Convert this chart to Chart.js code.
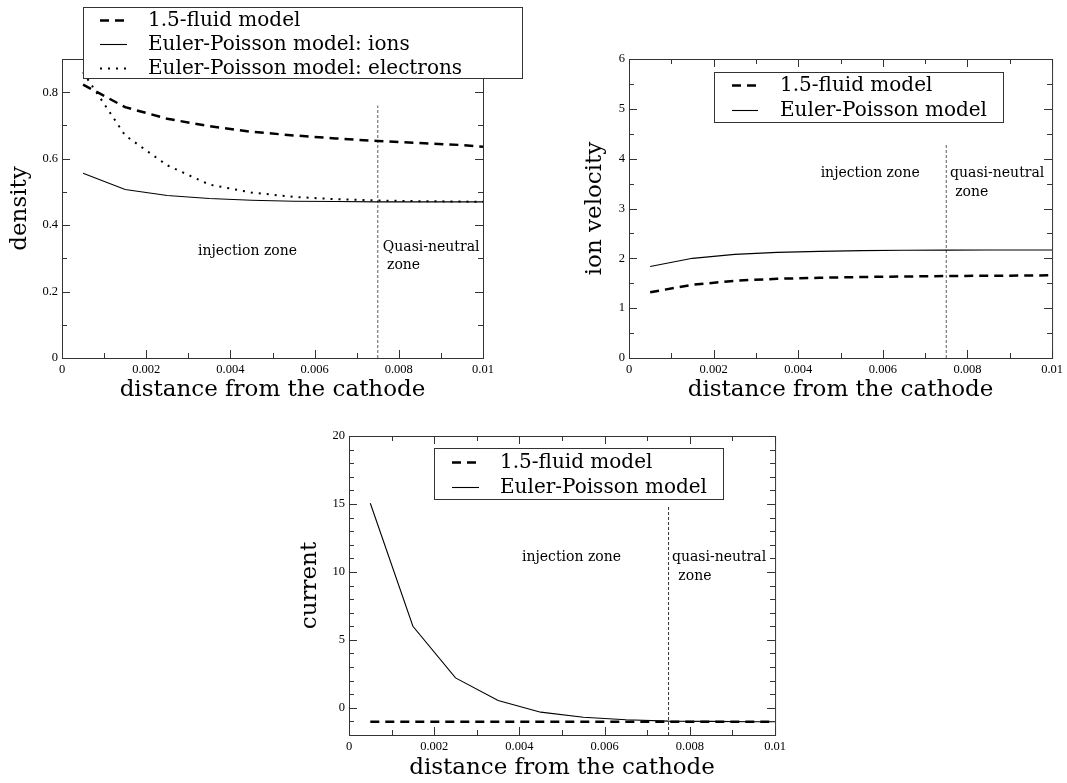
<!DOCTYPE html>
<html>
<head>
<meta charset="utf-8">
<script src="https://cdn.jsdelivr.net/npm/chart.js@4.4.1/dist/chart.umd.min.js"></script>
<style>
  body { margin: 0; background: #fff; }
  .wrap { position: relative; width: 1067px; height: 783px; overflow: hidden; }
  canvas { position: absolute; }
</style>
</head>
<body>
<div class="wrap">
  <canvas id="densityChart" width="545" height="405" style="left:0;top:0;width:545px;height:405px"></canvas>
  <canvas id="velocityChart" width="492" height="405" style="left:575px;top:0;width:492px;height:405px"></canvas>
  <canvas id="currentChart" width="500" height="363" style="left:290px;top:420px;width:500px;height:363px"></canvas>
</div>
<script>
// sample positions along the gap (distance from the cathode)
const distance = [0.0005, 0.0015, 0.0025, 0.0035, 0.0045, 0.0055, 0.0065, 0.0075, 0.0085, 0.0095, 0.01];

// density
const densityFluid = [0.823, 0.755, 0.72, 0.698, 0.681, 0.670, 0.661, 0.653, 0.647, 0.641, 0.636];
const densityIons = [0.556, 0.507, 0.489, 0.480, 0.475, 0.472, 0.471, 0.470, 0.470, 0.470, 0.470];
const densityElectrons = [0.86, 0.67, 0.58, 0.522, 0.498, 0.485, 0.478, 0.474, 0.472, 0.471, 0.470];

// ion velocity
const velocityFluid = [1.32, 1.47, 1.55, 1.59, 1.61, 1.625, 1.635, 1.645, 1.65, 1.655, 1.66];
const velocityEP = [1.835, 2.0, 2.08, 2.12, 2.14, 2.155, 2.162, 2.165, 2.167, 2.168, 2.168];

// current
const currentFluid = [-1.03, -1.03, -1.03, -1.03, -1.03, -1.03, -1.03, -1.03, -1.03, -1.03, -1.03];
const currentEP = [15.05, 6.0, 2.2, 0.54, -0.32, -0.69, -0.88, -0.98, -1.0, -1.02, -1.03];

// boundary between injection zone and quasi-neutral zone
const zoneBoundary = 0.0075;

// ticks
const xTicks = [0, 0.002, 0.004, 0.006, 0.008, 0.01];
const xTickLabels = ['0', '0.002', '0.004', '0.006', '0.008', '0.01'];
const xMinor = [0.001, 0.003, 0.005, 0.007, 0.009];

const densityTicks = [0, 0.2, 0.4, 0.6, 0.8];
const densityTickLabels = ['0', '0.2', '0.4', '0.6', '0.8'];
const densityMinor = [0.1, 0.3, 0.5, 0.7];

const velocityTicks = [0, 1, 2, 3, 4, 5, 6];
const velocityTickLabels = ['0', '1', '2', '3', '4', '5', '6'];
const velocityMinor = [0.5, 1.5, 2.5, 3.5, 4.5, 5.5];

const currentTicks = [0, 5, 10, 15, 20];
const currentTickLabels = ['0', '5', '10', '15', '20'];
const currentMinor = [-1, 1, 2, 3, 4, 6, 7, 8, 9, 11, 12, 13, 14, 16, 17, 18, 19];

const pts = (ys) => distance.map((x, i) => ({ x: x, y: ys[i] }));

const SERIF = '"DejaVu Serif", serif';
const TICKFONT = '"Liberation Serif", "Times New Roman", serif';

// frame + inward ticks on all four sides, zone notes, boxed legend
const paperPlugin = {
    id: 'paper',
    afterDatasetsDraw(chart, args, opts) {
        const ctx = chart.ctx;
        const a = chart.chartArea;
        const xs = chart.scales.x, ys = chart.scales.y;
        ctx.save();
        ctx.strokeStyle = '#333';
        ctx.lineWidth = 1;
        ctx.strokeRect(a.left + 0.5, a.top + 0.5, a.right - a.left, a.bottom - a.top);
        ctx.beginPath();
        const tickX = (vals, len) => vals.forEach(v => {
            const p = Math.round(xs.getPixelForValue(v)) + 0.5;
            ctx.moveTo(p, a.bottom); ctx.lineTo(p, a.bottom - len);
            ctx.moveTo(p, a.top); ctx.lineTo(p, a.top + len);
        });
        const tickY = (vals, len) => vals.forEach(v => {
            const p = Math.round(ys.getPixelForValue(v)) + 0.5;
            ctx.moveTo(a.left, p); ctx.lineTo(a.left + len, p);
            ctx.moveTo(a.right, p); ctx.lineTo(a.right - len, p);
        });
        tickX(xTicks, 8);
        tickX(xMinor, 5);
        tickY(opts.yTicks, 8);
        tickY(opts.yMinor, 5);
        ctx.stroke();

        // zone notes
        ctx.fillStyle = '#000';
        ctx.font = '14px ' + SERIF;
        ctx.textAlign = 'left';
        ctx.textBaseline = 'middle';
        opts.notes.forEach(n => {
            ctx.fillText(n.text, xs.getPixelForValue(n.x), ys.getPixelForValue(n.y));
        });

        // legend box
        const L = opts.legend;
        ctx.fillStyle = '#fff';
        ctx.fillRect(L.left, L.top, L.width, L.height);
        ctx.strokeStyle = '#333';
        ctx.strokeRect(L.left + 0.5, L.top + 0.5, L.width, L.height);
        ctx.font = '20px ' + SERIF;
        chart.data.datasets.filter(d => d.label).forEach((d, i) => {
            const y = Math.round(L.top + L.firstRow + i * L.rowGap) + 0.5;
            ctx.beginPath();
            ctx.strokeStyle = '#000';
            ctx.lineWidth = d.borderWidth;
            ctx.setLineDash(d.borderDash || []);
            ctx.moveTo(L.sampleX, y);
            ctx.lineTo(L.sampleX + L.sampleW, y);
            ctx.stroke();
            ctx.setLineDash([]);
            ctx.fillStyle = '#000';
            ctx.fillText(d.label, L.textX, y);
        });
        ctx.restore();
    }
};

function makeChart(id, cfg) {
    return new Chart(document.getElementById(id).getContext('2d'), {
        type: 'line',
        data: { datasets: cfg.datasets },
        plugins: [paperPlugin],
        options: {
            responsive: false,
            animation: false,
            devicePixelRatio: 1,
            layout: { padding: cfg.padding },
            elements: { point: { radius: 0 }, line: { tension: 0 } },
            plugins: {
                legend: { display: false },
                tooltip: { enabled: false },
                paper: cfg.paper,
            },
            scales: {
                x: {
                    type: 'linear',
                    min: 0,
                    max: 0.01,
                    afterBuildTicks: s => { s.ticks = xTicks.map(v => ({ value: v })); },
                    afterFit: s => { s.height = cfg.xHeight; },
                    grid: { display: false, drawTicks: false },
                    border: { display: false },
                    ticks: {
                        padding: 4,
                        color: '#000',
                        font: { family: TICKFONT, size: 12.5 },
                        maxRotation: 0,
                        callback: (v, i) => xTickLabels[i],
                    },
                    title: {
                        display: true,
                        text: 'distance from the cathode',
                        color: '#000',
                        font: { family: SERIF, size: 23 },
                        padding: { top: 0, bottom: 1 },
                    },
                },
                y: {
                    min: cfg.yMin,
                    max: cfg.yMax,
                    afterBuildTicks: s => { s.ticks = cfg.yTicks.map(v => ({ value: v })); },
                    afterFit: s => { s.width = cfg.yWidth; },
                    grid: { display: false, drawTicks: false },
                    border: { display: false },
                    ticks: {
                        padding: 4,
                        color: '#000',
                        font: { family: TICKFONT, size: 12.5 },
                        callback: (v, i) => cfg.yTickLabels[i],
                    },
                    title: {
                        display: true,
                        text: cfg.yTitle,
                        color: '#000',
                        font: { family: SERIF, size: 23 },
                        padding: { top: 6, bottom: 0 },
                    },
                },
            },
        },
    });
}

const fluidStyle = { borderColor: '#000', borderWidth: 2.5, borderDash: [9, 6], fill: false };
const solidStyle = { borderColor: '#000', borderWidth: 1.1, fill: false };
const dottedStyle = { borderColor: '#000', borderWidth: 2, borderDash: [2, 6], fill: false };
const boundaryStyle = { borderColor: '#777', borderWidth: 1.2, borderDash: [3, 2], fill: false };

// Density
makeChart('densityChart', {
    padding: { left: 0, right: 62, top: 59, bottom: 0 },
    xHeight: 47,
    yWidth: 62,
    yMin: 0,
    yMax: 0.9,
    yTicks: densityTicks,
    yTickLabels: densityTickLabels,
    yTitle: 'density',
    datasets: [
        Object.assign({ label: '1.5-fluid model', data: pts(densityFluid) }, fluidStyle),
        Object.assign({ label: 'Euler-Poisson model: ions', data: pts(densityIons) }, solidStyle),
        Object.assign({ label: 'Euler-Poisson model: electrons', data: pts(densityElectrons) }, dottedStyle),
        Object.assign({ data: [{ x: zoneBoundary, y: 0 }, { x: zoneBoundary, y: 0.76 }] }, boundaryStyle),
    ],
    paper: {
        yTicks: densityTicks,
        yMinor: densityMinor,
        notes: [
            { text: 'injection zone', x: 0.00323, y: 0.322 },
            { text: 'Quasi-neutral', x: 0.00762, y: 0.334 },
            { text: 'zone', x: 0.00772, y: 0.28 },
        ],
        legend: { left: 83, top: 7, width: 439, height: 71, firstRow: 13, rowGap: 24, sampleX: 100, sampleW: 27, textX: 148 },
    },
});

// Ion velocity
makeChart('velocityChart', {
    padding: { left: 0, right: 10, top: 59, bottom: 0 },
    xHeight: 47,
    yWidth: 54,
    yMin: 0,
    yMax: 6,
    yTicks: velocityTicks,
    yTickLabels: velocityTickLabels,
    yTitle: 'ion velocity',
    datasets: [
        Object.assign({ label: '1.5-fluid model', data: pts(velocityFluid) }, fluidStyle),
        Object.assign({ label: 'Euler-Poisson model', data: pts(velocityEP) }, solidStyle),
        Object.assign({ data: [{ x: zoneBoundary, y: 0 }, { x: zoneBoundary, y: 4.29 }] }, boundaryStyle),
    ],
    paper: {
        yTicks: velocityTicks,
        yMinor: velocityMinor,
        notes: [
            { text: 'injection zone', x: 0.00453, y: 3.71 },
            { text: 'quasi-neutral', x: 0.00759, y: 3.71 },
            { text: 'zone', x: 0.00771, y: 3.33 },
        ],
        legend: { left: 139, top: 72, width: 289, height: 50, firstRow: 13, rowGap: 25, sampleX: 157, sampleW: 26, textX: 205 },
    },
});

// Current
makeChart('currentChart', {
    padding: { left: 0, right: 13, top: 16, bottom: 0 },
    xHeight: 48,
    yWidth: 59,
    yMin: -2,
    yMax: 20,
    yTicks: currentTicks,
    yTickLabels: currentTickLabels,
    yTitle: 'current',
    datasets: [
        Object.assign({ label: '1.5-fluid model', data: pts(currentFluid) }, fluidStyle),
        Object.assign({ label: 'Euler-Poisson model', data: pts(currentEP) }, solidStyle),
        Object.assign({ data: [{ x: zoneBoundary, y: -2 }, { x: zoneBoundary, y: 14.8 }] }, boundaryStyle, { borderColor: '#333', borderWidth: 1 }),
    ],
    paper: {
        yTicks: currentTicks,
        yMinor: currentMinor,
        notes: [
            { text: 'injection zone', x: 0.00406, y: 11.05 },
            { text: 'quasi-neutral', x: 0.00758, y: 11.05 },
            { text: 'zone', x: 0.00773, y: 9.65 },
        ],
        legend: { left: 144, top: 28, width: 289, height: 51, firstRow: 14, rowGap: 25, sampleX: 162, sampleW: 27, textX: 210 },
    },
});
</script>
</body>
</html>
